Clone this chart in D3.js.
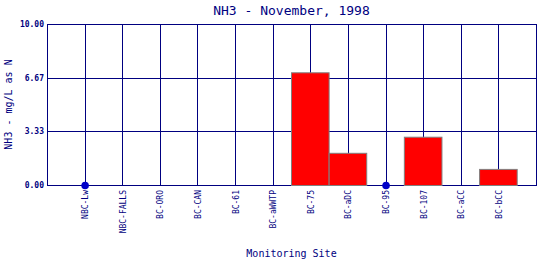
<!DOCTYPE html>
<html>
<head>
<meta charset="utf-8">
<script src="https://cdn.jsdelivr.net/npm/d3@7"></script>
<style>
  body { margin: 0; background: #fff; }
  svg { display: block; }
  text { font-family: "DejaVu Sans Mono", monospace; fill: #000080; }
</style>
</head>
<body>
<svg></svg>
<script>
var sites = ["NBC-Lw", "NBC-FALLS", "BC-ORO", "BC-CAN", "BC-61", "BC-aWWTP", "BC-75", "BC-aDC", "BC-95", "BC-107", "BC-aCC", "BC-bCC"];
// null = no bar (shown as a dot at zero)
var nh3 = [null, 0, 0, 0, 0, 0, 7.0, 2.0, null, 3.0, 0, 1.0];
var yTicks = [0, 3.33, 6.67, 10];

var viewWidth = 540, viewHeight = 260;
var margin = {top: 24, right: 4, bottom: 75, left: 47};
var width = viewWidth - margin.left - margin.right;
var height = viewHeight - margin.top - margin.bottom;
var navy = "#000080";

var svg = d3.select("svg")
    .attr("width", viewWidth)
    .attr("height", viewHeight);

var g = svg.append("g")
    .attr("transform", "translate(" + margin.left + "," + margin.top + ")");

var x = d3.scalePoint()
    .domain(sites)
    .range([0, width])
    .padding(1);
var step = x.step();

var y = d3.scaleLinear()
    .domain([0, 10])
    .range([height, 0]);

// grid
g.selectAll("hgrid")
    .data(yTicks)
    .enter()
    .append("line")
      .attr("x1", 0).attr("x2", width)
      .attr("y1", function(d){ return Math.round(y(d)) + 0.5; })
      .attr("y2", function(d){ return Math.round(y(d)) + 0.5; })
      .style("stroke", navy);

g.selectAll("vgrid")
    .data(sites)
    .enter()
    .append("line")
      .attr("x1", function(d){ return Math.round(x(d)) + 0.5; })
      .attr("x2", function(d){ return Math.round(x(d)) + 0.5; })
      .attr("y1", 0).attr("y2", height)
      .style("stroke", navy);

g.append("rect")
    .attr("x", 0.5).attr("y", 0.5)
    .attr("width", width).attr("height", height)
    .style("fill", "none")
    .style("stroke", navy);

// bars
var barData = sites.map(function(s, i){ return {site: s, v: nh3[i]}; });

g.selectAll("bar")
    .data(barData.filter(function(d){ return d.v !== null; }))
    .enter()
    .append("rect")
      .attr("x", function(d){ return x(d.site) - step / 2; })
      .attr("y", function(d){ return y(d.v) + 0.5; })
      .attr("width", step)
      .attr("height", function(d){ return height - y(d.v); })
      .style("fill", "#ff0000")
      .style("stroke", "#808080")
      .style("stroke-width", 1);

g.selectAll("dot")
    .data(barData.filter(function(d){ return d.v === null; }))
    .enter()
    .append("circle")
      .attr("cx", function(d){ return x(d.site) + 0.5; })
      .attr("cy", height + 0.5)
      .attr("r", 3.8)
      .style("fill", "#0000c8");

// y tick labels
g.selectAll("ylab")
    .data(yTicks)
    .enter()
    .append("text")
      .attr("x", -3)
      .attr("y", function(d){ return y(d) + 3; })
      .attr("text-anchor", "end")
      .style("font-size", "8px")
      .style("font-weight", "bold")
      .text(function(d){ return d.toFixed(2); });

// x tick labels
g.selectAll("xlab")
    .data(sites)
    .enter()
    .append("text")
      .attr("transform", function(d){ return "translate(" + (x(d) + 3.5) + "," + (height + 5) + ") rotate(-90)"; })
      .attr("text-anchor", "end")
      .style("font-size", "8px")
      .text(function(d){ return d; });

// titles
svg.append("text")
    .attr("x", margin.left + width / 2)
    .attr("y", 15)
    .attr("text-anchor", "middle")
    .style("font-size", "13px")
    .text("NH3 - November, 1998");

svg.append("text")
    .attr("x", margin.left + width / 2)
    .attr("y", 257)
    .attr("text-anchor", "middle")
    .style("font-size", "10px")
    .text("Monitoring Site");

svg.append("text")
    .attr("transform", "translate(12," + (margin.top + height / 2) + ") rotate(-90)")
    .attr("text-anchor", "middle")
    .style("font-size", "10px")
    .text("NH3 - mg/L as N");
</script>
</body>
</html>
